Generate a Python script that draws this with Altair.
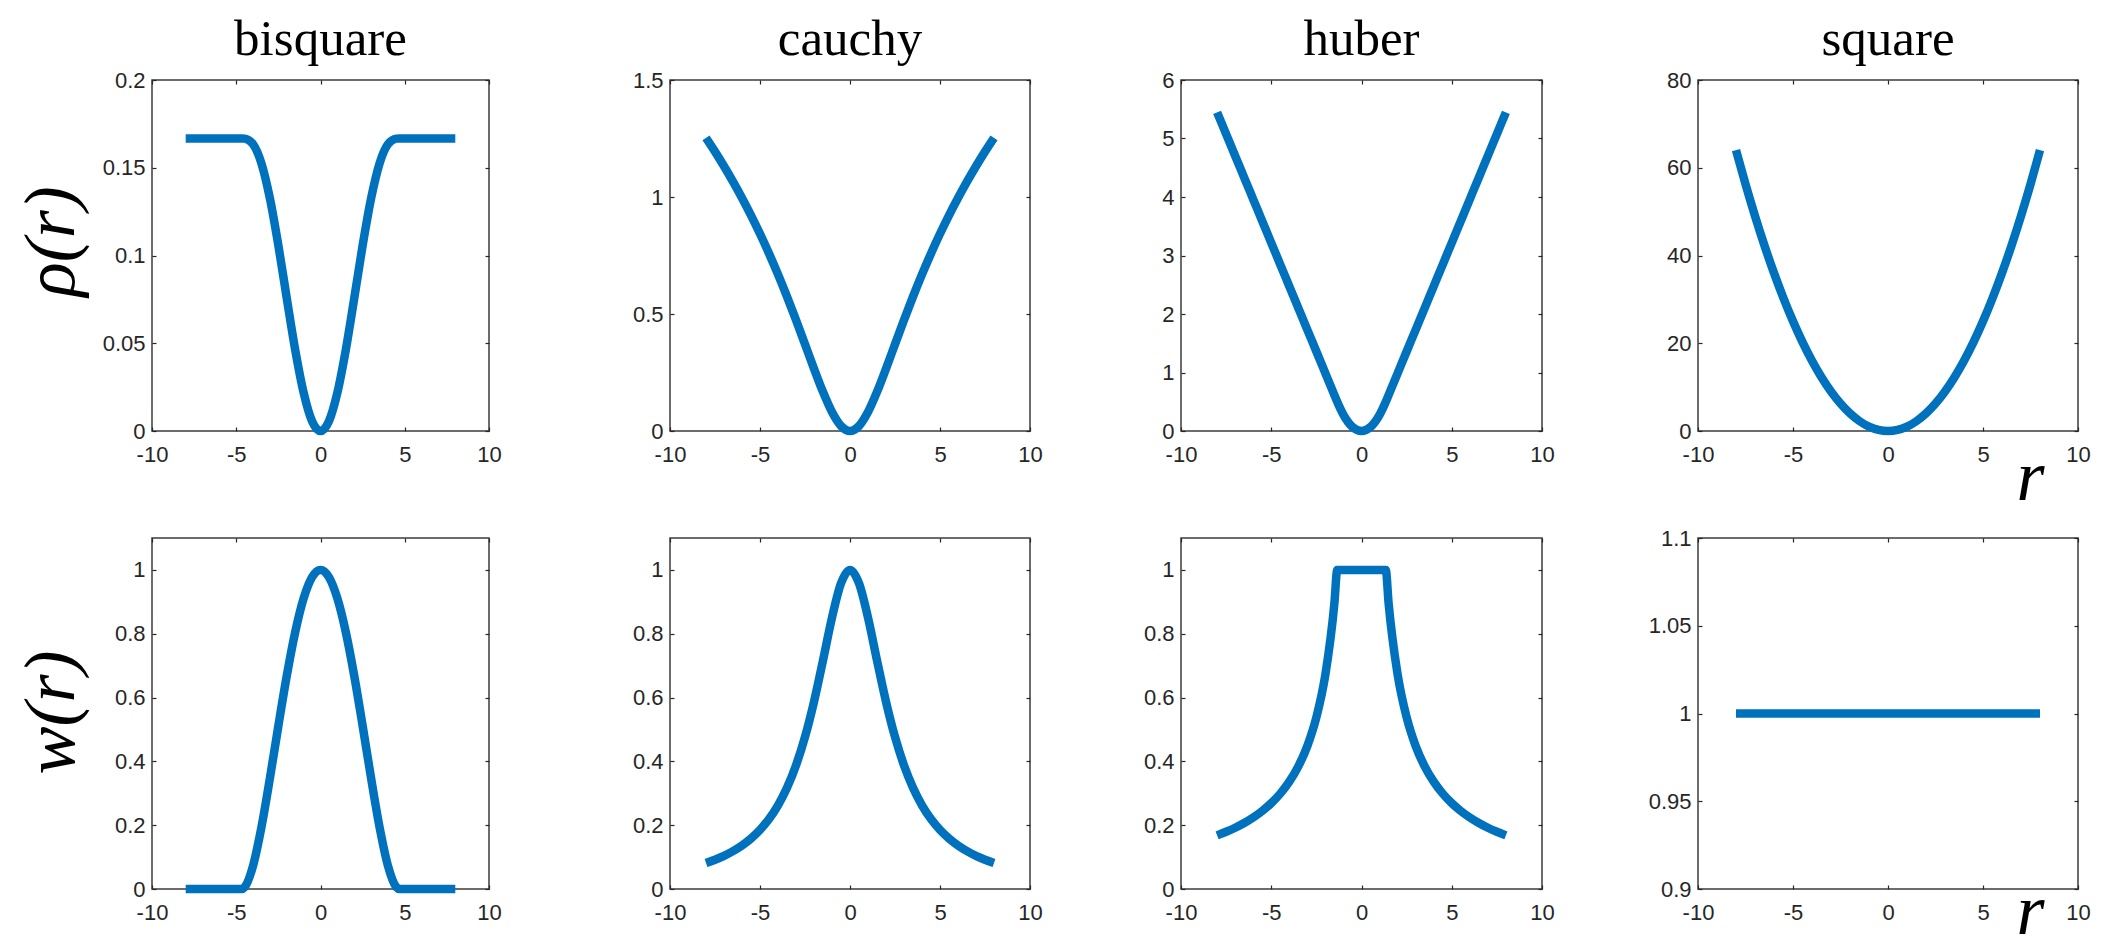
import altair as alt
import pandas as pd

# ---------------- data ----------------
COLUMNS = ["bisquare", "cauchy", "huber", "square"]
ROW_LABELS = ["ρ(r)", "w(r)"]
X_TICKS = [-10, -5, 0, 5, 10]

R_STD = [-8, -7.5, -7, -6.5, -6, -5.5, -5, -4.5, -4, -3.5, -3, -2.5, -2, -1.5, -1, -0.5,
         0, 0.5, 1, 1.5, 2, 2.5, 3, 3.5, 4, 4.5, 5, 5.5, 6, 6.5, 7, 7.5, 8]
R_BISQUARE = [-8, -7.5, -7, -6.5, -6, -5.5, -5, -4.685, -4.5, -4, -3.5, -3, -2.5, -2, -1.5, -1, -0.5,
              0, 0.5, 1, 1.5, 2, 2.5, 3, 3.5, 4, 4.5, 4.685, 5, 5.5, 6, 6.5, 7, 7.5, 8]
R_HUBER = [-8, -7.5, -7, -6.5, -6, -5.5, -5, -4.5, -4, -3.5, -3, -2.5, -2, -1.5, -1.345, -1, -0.5,
           0, 0.5, 1, 1.345, 1.5, 2, 2.5, 3, 3.5, 4, 4.5, 5, 5.5, 6, 6.5, 7, 7.5, 8]

BISQUARE_RHO = [0.1667, 0.1667, 0.1667, 0.1667, 0.1667, 0.1667, 0.1667, 0.1667, 0.1666, 0.1634,
                0.1523, 0.1324, 0.1057, 0.0755, 0.0462, 0.0218, 0.0056, 0.0, 0.0056, 0.0218,
                0.0462, 0.0755, 0.1057, 0.1324, 0.1523, 0.1634, 0.1666, 0.1667, 0.1667, 0.1667,
                0.1667, 0.1667, 0.1667, 0.1667, 0.1667]
BISQUARE_W = [0, 0, 0, 0, 0, 0, 0, 0, 0.006, 0.0735, 0.1953, 0.3481, 0.5116, 0.6687, 0.8055,
              0.911, 0.9774, 1.0, 0.9774, 0.911, 0.8055, 0.6687, 0.5116, 0.3481, 0.1953, 0.0735,
              0.006, 0, 0, 0, 0, 0, 0, 0, 0]
CAUCHY_RHO = [1.2528, 1.1939, 1.1316, 1.0658, 0.9959, 0.9217, 0.8428, 0.7587, 0.6692, 0.5743,
              0.4743, 0.3707, 0.2663, 0.1667, 0.081, 0.0215, 0.0, 0.0215, 0.081, 0.1667, 0.2663,
              0.3707, 0.4743, 0.5743, 0.6692, 0.7587, 0.8428, 0.9217, 0.9959, 1.0658, 1.1316,
              1.1939, 1.2528]
CAUCHY_W = [0.0816, 0.0918, 0.104, 0.1187, 0.1364, 0.1583, 0.1853, 0.2193, 0.2623, 0.3171,
            0.3873, 0.4765, 0.5871, 0.7166, 0.8505, 0.9579, 1.0, 0.9579, 0.8505, 0.7166, 0.5871,
            0.4765, 0.3873, 0.3171, 0.2623, 0.2193, 0.1853, 0.1583, 0.1364, 0.1187, 0.104,
            0.0918, 0.0816]
HUBER_RHO = [5.448, 5.076, 4.704, 4.333, 3.961, 3.589, 3.217, 2.846, 2.474, 2.102, 1.73, 1.359,
             0.987, 0.615, 0.5, 0.276, 0.069, 0.0, 0.069, 0.276, 0.5, 0.615, 0.987, 1.359, 1.73,
             2.102, 2.474, 2.846, 3.217, 3.589, 3.961, 4.333, 4.704, 5.076, 5.448]
HUBER_W = [0.1681, 0.1793, 0.1921, 0.2069, 0.2242, 0.2445, 0.269, 0.2989, 0.3363, 0.3843, 0.4483,
           0.538, 0.6725, 0.8967, 1.0, 1.0, 1.0, 1.0, 1.0, 1.0, 1.0, 0.8967, 0.6725, 0.538,
           0.4483, 0.3843, 0.3363, 0.2989, 0.269, 0.2445, 0.2242, 0.2069, 0.1921, 0.1793, 0.1681]
SQUARE_RHO = [64, 56.25, 49, 42.25, 36, 30.25, 25, 20.25, 16, 12.25, 9, 6.25, 4, 2.25, 1, 0.25,
              0, 0.25, 1, 2.25, 4, 6.25, 9, 12.25, 16, 20.25, 25, 30.25, 36, 42.25, 49, 56.25, 64]
SQUARE_W = [1, 1, 1, 1, 1, 1, 1, 1, 1, 1, 1, 1, 1, 1, 1, 1, 1, 1, 1, 1, 1, 1, 1, 1, 1, 1, 1,
            1, 1, 1, 1, 1, 1]

RHO_DOMAINS = [[0, 0.2], [0, 1.5], [0, 6], [0, 80]]
RHO_TICKS = [[0, 0.05, 0.1, 0.15, 0.2], [0, 0.5, 1, 1.5], [0, 1, 2, 3, 4, 5, 6], [0, 20, 40, 60, 80]]
W_DOMAINS = [[0, 1.1], [0, 1.1], [0, 1.1], [0.9, 1.1]]
W_TICKS = [[0, 0.2, 0.4, 0.6, 0.8, 1], [0, 0.2, 0.4, 0.6, 0.8, 1], [0, 0.2, 0.4, 0.6, 0.8, 1],
           [0.9, 0.95, 1, 1.05, 1.1]]

SERIES = [
    [(R_BISQUARE, BISQUARE_RHO), (R_STD, CAUCHY_RHO), (R_HUBER, HUBER_RHO), (R_STD, SQUARE_RHO)],
    [(R_BISQUARE, BISQUARE_W), (R_STD, CAUCHY_W), (R_HUBER, HUBER_W), (R_STD, SQUARE_W)],
]

# ---------------- layout / style ----------------
PANEL_WIDTHS = [337, 360, 361, 380]
GAPS = [181, 151, 156]
PANEL_HEIGHT = 351
ROW_GAP = 107

BLUE = "#0072BD"
AX = "#262626"
SANS = "Liberation Sans"
SERIF = "Liberation Serif"
LABEL_EXPR = "'' + datum.value"
TICK = 4
LABEL_SIZE = 22


def panel(row, col):
    xs, ys = SERIES[row][col]
    df = pd.DataFrame({"r": xs, "v": ys})
    dom = RHO_DOMAINS[col] if row == 0 else W_DOMAINS[col]
    ticks = RHO_TICKS[col] if row == 0 else W_TICKS[col]
    xscale = alt.Scale(domain=[-10, 10], nice=False, zero=False)
    yscale = alt.Scale(domain=dom, nice=False, zero=False)

    common = dict(offset=-TICK, tickSize=TICK, tickColor=AX, tickWidth=1.2,
                  domain=False, grid=False)
    xkw = dict(values=X_TICKS, orient="bottom", labelFont=SANS, labelFontSize=LABEL_SIZE,
               labelColor=AX, labelPadding=13, labelExpr=LABEL_EXPR, labelFlush=False,
               labelOverlap=False, **common)
    if col == 3:
        xkw.update(title="r", titleFont=SERIF, titleFontStyle="italic", titleFontSize=72,
                   titleFontWeight="normal", titleColor="#000000", titleAlign="center",
                   titleBaseline="alphabetic", titleAngle=0, titleX=332,
                   titleY=72 if row == 0 else 48)
    else:
        xkw["title"] = None
    ykw = dict(values=ticks, orient="left", labelFont=SANS, labelFontSize=LABEL_SIZE,
               labelColor=AX, labelPadding=7, labelExpr=LABEL_EXPR, labelOverlap=False,
               labelFlush=False, **common)
    if col == 0:
        ykw.update(title=ROW_LABELS[row], titleFont=SERIF, titleFontStyle="italic",
                   titleFontSize=72, titleFontWeight="normal", titleColor="#000000",
                   titleAngle=270, titleAlign="center", titleBaseline="alphabetic",
                   titleX=-83, titleY=161 if row == 0 else 174)
    else:
        ykw["title"] = None

    main = alt.Chart(df).mark_line(color=BLUE, strokeWidth=8.5, interpolate="monotone").encode(
        x=alt.X("r:Q", scale=xscale, axis=alt.Axis(**xkw)),
        y=alt.Y("v:Q", scale=yscale, axis=alt.Axis(**ykw)),
    )
    mirror = alt.Chart(df).mark_line(opacity=0).encode(
        x=alt.X("r:Q", scale=xscale,
                axis=alt.Axis(values=X_TICKS, orient="top", labels=False, title=None, **common)),
        y=alt.Y("v:Q", scale=yscale,
                axis=alt.Axis(values=ticks, orient="right", labels=False, title=None, **common)),
    )
    props = dict(width=PANEL_WIDTHS[col], height=PANEL_HEIGHT)
    if row == 0:
        props["title"] = alt.TitleParams(text=COLUMNS[col], font=SERIF, fontSize=51,
                                         fontWeight="normal", color="#000000", anchor="middle",
                                         frame="group", baseline="alphabetic", offset=-37)
    return alt.layer(main, mirror).resolve_axis(x="independent", y="independent").properties(**props)


def spacer(w):
    return alt.Chart(pd.DataFrame({"v": [0]})).mark_point(opacity=0).encode(
        x=alt.value(0), y=alt.value(0)
    ).properties(width=w, height=PANEL_HEIGHT, view=alt.ViewBackground(stroke="transparent"))


cells = []
for row in range(2):
    for col in range(4):
        cells.append(panel(row, col))
        if col < 3:
            cells.append(spacer(GAPS[col]))

chart = alt.concat(
    *cells, columns=7, spacing={"row": ROW_GAP, "column": 0}, bounds="flush", align="each"
).configure_view(stroke="#3c3c3c", strokeWidth=1.5).properties(
    padding={"left": 6, "top": 5, "right": 5, "bottom": 0}
)

chart.save("out.html", embed_options={"renderer": "svg", "actions": False})
